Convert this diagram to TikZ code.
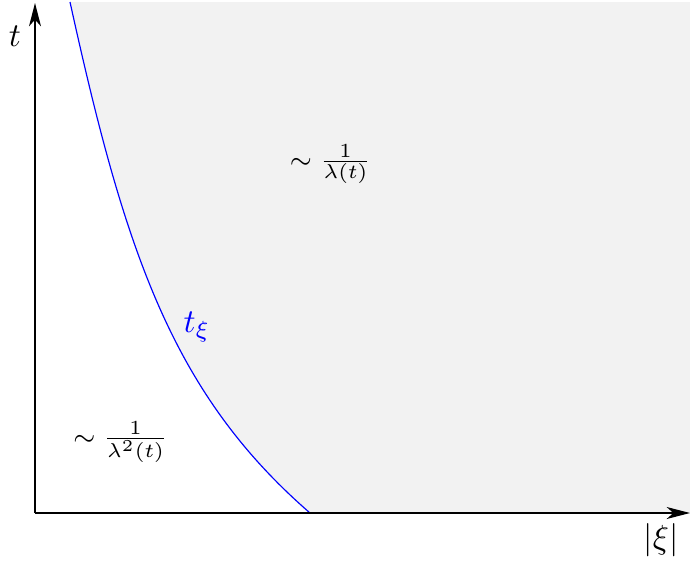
\documentclass[tikz,border=0pt]{standalone}
\usetikzlibrary{arrows.meta}
\definecolor{regiongray}{HTML}{F2F2F2}
\tikzset{
  axis/.style={line width=0.4pt,-{Stealth[length=7pt,width=3.6pt,inset=2pt]}},
  curveline/.style={blue,line width=0.35pt},
  lbl/.style={inner sep=0pt},
  fraclbl/.style={inner sep=0pt,font=\fontsize{8.5}{10}\selectfont},
}
\begin{document}
\begin{tikzpicture}[x=0.3pt,y=-0.3pt]
\useasboundingbox (0,0) rectangle (690,565);
% shaded region
\fill[regiongray] (70,2) -- (690,2) -- (690,513) -- (310,513)
  .. controls (172,393) and (125,252) .. (70,2) -- cycle;
% curve
\draw[curveline] (310,513) .. controls (172,393) and (125,252) .. (70,2);
% axes
\coordinate (O) at (35,513);
\coordinate (Ytip) at (35,3);
\coordinate (Xtip) at (690,513);
\draw[axis] (O) -- (Ytip);
\draw[axis] (O) -- (Xtip);
% labels
\node[lbl] (tlab) at (15,36) {$t$};
\node[lbl] (xilab) at (661,540) {$|\xi|$};
\node[fraclbl] (upper) at (330.5,164) {$\sim \frac{1}{\lambda(t)}$};
\node[fraclbl] (lower) at (120.5,442) {$\sim \frac{1}{\lambda^2(t)}$};
\node[lbl,blue] (txi) at (197,327) {$t_\xi$};
\end{tikzpicture}
\end{document}
